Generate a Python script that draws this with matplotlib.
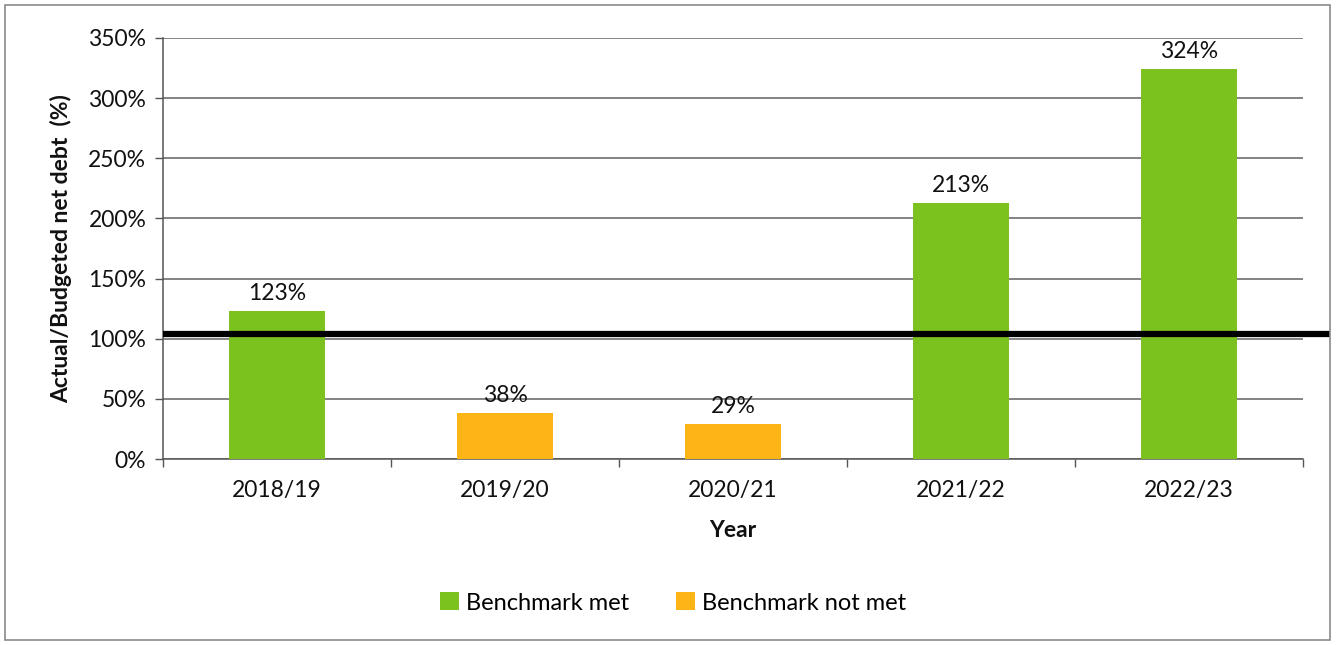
import matplotlib.pyplot as plt
from matplotlib.patches import Patch, Rectangle
from matplotlib.ticker import FuncFormatter, MultipleLocator

plt.rcParams['font.family'] = ['Lato', 'DejaVu Sans']

# Ratio of actual to budgeted net debt, per financial year
years = ['2018/19', '2019/20', '2020/21', '2021/22', '2022/23']
ratio_pct = [123, 38, 29, 213, 324]
benchmark_met = [True, False, False, True, True]
benchmark_pct = 104

GREEN = '#7cc21e'
ORANGE = '#fdb417'
INK = '#111111'
FS = 16.5

fig = plt.figure(figsize=(13.41, 6.45), dpi=100)
ax = fig.add_axes([163 / 1341, 1 - 459 / 645, 1140 / 1341, 421 / 645])

# Outer chart frame
fig.patches.append(Rectangle((5 / 1341, 5 / 645), 1325 / 1341, 635 / 645,
                             transform=fig.transFigure, fill=False,
                             edgecolor='#8a8a8a', linewidth=1.2))

x = list(range(len(years)))
colors = [GREEN if m else ORANGE for m in benchmark_met]
bars = ax.bar(x, ratio_pct, width=0.42, color=colors, zorder=3)

for xi, v in zip(x, ratio_pct):
    ax.text(xi, v + 6, f'{v}%', ha='center', va='bottom',
            fontsize=FS, color=INK, zorder=4)

# Benchmark line runs a little past the plot area
ax.plot([-0.5, 4.62], [benchmark_pct, benchmark_pct], color='#000000',
        linewidth=4.5, zorder=5, clip_on=False, solid_capstyle='butt')

ax.set_xlim(-0.5, 4.5)
ax.set_ylim(0, 350)
ax.yaxis.set_major_locator(MultipleLocator(50))
ax.yaxis.set_major_formatter(FuncFormatter(lambda v, _: f'{v:.0f}%'))
ax.grid(axis='y', color='#6e6e6e', linewidth=1.2, zorder=0)

ax.set_xticks(x)
ax.set_xticklabels(years)
ax.set_xticks([i - 0.5 for i in range(len(years) + 1)], minor=True)
ax.tick_params(axis='x', which='major', length=0, labelsize=FS, pad=15,
               colors=INK)
ax.tick_params(axis='x', which='minor', length=6, width=1.0, direction='out',
               color='#555555')
ax.tick_params(axis='y', length=6, width=1.0, direction='out', labelsize=FS,
               color='#555555', labelcolor=INK, pad=6)

for side in ('top', 'right'):
    ax.spines[side].set_visible(False)
for side in ('left', 'bottom'):
    ax.spines[side].set_color('#555555')
    ax.spines[side].set_linewidth(1.1)

ax.set_xlabel('Year', fontsize=FS, fontweight='bold', labelpad=14, color=INK)
ax.set_ylabel('Actual/Budgeted net debt  (%)', fontsize=FS, fontweight='bold',
              labelpad=12, color=INK)

handles = [Patch(facecolor=GREEN, label='Benchmark met'),
           Patch(facecolor=ORANGE, label='Benchmark not met')]
fig.legend(handles=handles, loc='center', bbox_to_anchor=(0.502, 1 - 603 / 645),
           ncol=2, frameon=False, fontsize=FS + 0.5, handlelength=0.8,
           handleheight=0.8, handletextpad=0.3, columnspacing=2.0)

fig.savefig('out.png', dpi=100, facecolor='white')
